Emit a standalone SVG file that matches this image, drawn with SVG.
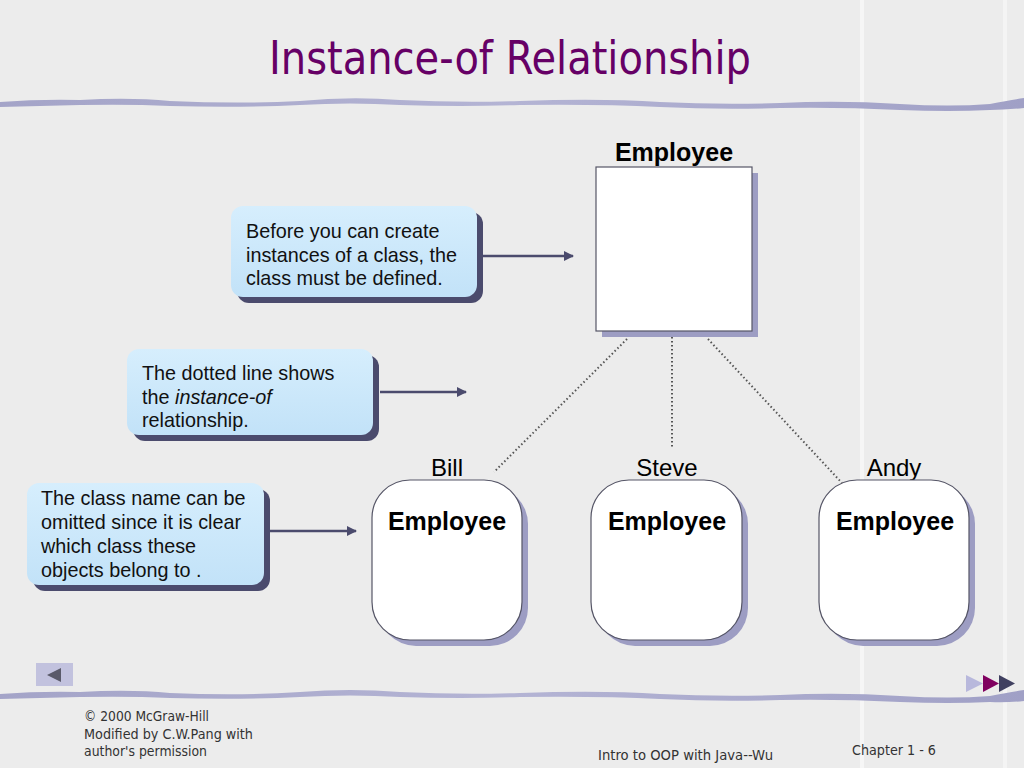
<svg xmlns="http://www.w3.org/2000/svg" width="1024" height="768" viewBox="0 0 1024 768">
<defs>
<linearGradient id="cg" x1="0" y1="0" x2="0" y2="1">
<stop offset="0" stop-color="#d6eefd"/>
<stop offset="1" stop-color="#c2e2f8"/>
</linearGradient>
<linearGradient id="wg" x1="0" y1="0" x2="1" y2="0">
<stop offset="0" stop-color="#a4a4c8"/>
<stop offset="0.5" stop-color="#b4b4d4"/>
<stop offset="1" stop-color="#a0a0c6"/>
</linearGradient>
<marker id="ah" viewBox="0 0 10 10" refX="9" refY="5" markerWidth="4" markerHeight="4" orient="auto">
<path d="M0,0 L10,5 L0,10 z" fill="#4b4b6d"/>
</marker>
</defs>
<style>
.callout{fill:url(#cg);}
.cshadow{fill:#4b4b6d;}
.nshadow{fill:#9d9dc3;}
.node{fill:#ffffff;stroke:#555566;stroke-width:1.2;}
.ctext{font-family:"Liberation Sans",Arial,sans-serif;font-size:19.8px;fill:#111;}
.bold{font-family:"Liberation Sans",Arial,sans-serif;font-size:25px;font-weight:bold;fill:#000;}
.name{font-family:"Liberation Sans",Arial,sans-serif;font-size:24px;fill:#000;}
.foot{font-family:"DejaVu Sans Condensed","DejaVu Sans",sans-serif;font-size:14px;fill:#333;}
.arrow{stroke:#4b4b6d;stroke-width:2.5;fill:none;marker-end:url(#ah);}
.dot{stroke:#555;stroke-width:2;stroke-dasharray:1.5,2.5;fill:none;}
.wave{fill:url(#wg);}
</style>
<rect x="0" y="0" width="1024" height="768" fill="#ececec"/>
<rect x="860" y="0" width="4" height="768" fill="#f6f6f6"/>
<rect x="1003" y="0" width="4" height="768" fill="#f4f4f4"/>

<text x="510" y="74" text-anchor="middle" font-family="'DejaVu Sans Condensed','DejaVu Sans',sans-serif" font-size="47" fill="#660066" textLength="482" lengthAdjust="spacingAndGlyphs">Instance-of Relationship</text>

<path class="wave" d="M0,102 Q40,99 80,100 Q130,97 170,101 Q240,104 300,101 Q350,96 400,100 Q460,103 520,101 Q600,98 660,102 Q720,105 780,103 Q840,100 900,104 Q950,107 990,104 Q1010,100 1024,98 L1024,108 Q1005,110 990,110 Q950,112 900,110 Q840,107 780,108 Q720,110 660,107 Q600,104 520,105 Q460,107 400,105 Q350,102 300,105 Q240,108 170,106 Q130,104 80,105 Q40,106 0,107 z"/>
<path class="wave" d="M0,694 Q40,691 80,692 Q130,689 170,693 Q240,696 300,692 Q350,688 400,692 Q460,695 520,693 Q600,690 660,694 Q720,697 780,695 Q840,692 900,696 Q950,699 990,696 Q1010,692 1024,690 L1024,701 Q1005,703 990,702 Q950,704 900,702 Q840,699 780,700 Q720,702 660,699 Q600,696 520,697 Q460,699 400,697 Q350,694 300,697 Q240,700 170,698 Q130,696 80,697 Q40,698 0,699 z"/>

<g id="class-employee">
<text class="bold" x="674" y="161" text-anchor="middle">Employee</text>
<rect class="nshadow" x="602" y="173" width="156" height="164"/>
<rect class="node" x="596" y="167" width="156" height="164"/>
</g>

<g id="callout-1">
<rect class="cshadow" x="237" y="212" width="246" height="91" rx="12"/>
<rect class="callout" x="231" y="206" width="246" height="91" rx="12"/>
<text class="ctext" x="246" y="238">Before you can create</text>
<text class="ctext" x="246" y="262">instances of a class, the</text>
<text class="ctext" x="246" y="285">class must be defined.</text>
</g>

<g id="callout-2">
<rect class="cshadow" x="133" y="355" width="246" height="86" rx="12"/>
<rect class="callout" x="127" y="349" width="246" height="86" rx="12"/>
<text class="ctext" x="142" y="380">The dotted line shows</text>
<text class="ctext" x="142" y="404">the <tspan font-style="italic">instance-of</tspan></text>
<text class="ctext" x="142" y="427">relationship.</text>
</g>

<g id="callout-3">
<rect class="cshadow" x="33" y="489" width="237" height="102" rx="12"/>
<rect class="callout" x="27" y="483" width="237" height="102" rx="12"/>
<text class="ctext" x="41" y="505">The class name can be</text>
<text class="ctext" x="41" y="529">omitted since it is clear</text>
<text class="ctext" x="41" y="553">which class these</text>
<text class="ctext" x="41" y="577">objects belong to .</text>
</g>

<g id="obj-bill">
<text class="name" x="447" y="476" text-anchor="middle">Bill</text>
<rect class="nshadow" x="378" y="486" width="150" height="160" rx="38"/>
<rect class="node" x="372" y="480" width="150" height="160" rx="38"/>
<text class="bold" x="447" y="530" text-anchor="middle">Employee</text>
</g>
<g id="obj-steve">
<text class="name" x="667" y="476" text-anchor="middle">Steve</text>
<rect class="nshadow" x="597" y="486" width="151" height="160" rx="38"/>
<rect class="node" x="591" y="480" width="151" height="160" rx="38"/>
<text class="bold" x="667" y="530" text-anchor="middle">Employee</text>
</g>
<g id="obj-andy">
<text class="name" x="894" y="476" text-anchor="middle">Andy</text>
<rect class="nshadow" x="825" y="486" width="150" height="160" rx="38"/>
<rect class="node" x="819" y="480" width="150" height="160" rx="38"/>
<text class="bold" x="895" y="530" text-anchor="middle">Employee</text>
</g>

<g id="connectors">
<line class="arrow" x1="483" y1="256" x2="573" y2="256"/>
<line class="arrow" x1="380" y1="392" x2="466" y2="392"/>
<line class="arrow" x1="270" y1="531" x2="356" y2="531"/>
<line class="dot" x1="627" y1="339" x2="494" y2="472"/>
<line class="dot" x1="672" y1="337" x2="672" y2="448"/>
<line class="dot" x1="708" y1="339" x2="842" y2="483"/>
</g>

<g id="nav">
<rect x="36" y="663" width="37" height="23" fill="#c2c2de"/>
<path d="M47,675 L61,668 L61,682 z" fill="#5a5a6a"/>
<path d="M966,675 L983,683.5 L966,692 z" fill="#b8b8dc"/>
<path d="M983,675 L999,683.5 L983,692 z" fill="#800060"/>
<path d="M999,675 L1015,683.5 L999,692 z" fill="#404060"/>
</g>

<text class="foot" x="84" y="721" textLength="125" lengthAdjust="spacingAndGlyphs">© 2000 McGraw-Hill</text>
<text class="foot" x="84" y="739" textLength="169" lengthAdjust="spacingAndGlyphs">Modified by C.W.Pang with</text>
<text class="foot" x="84" y="756" textLength="123" lengthAdjust="spacingAndGlyphs">author's permission</text>
<text class="foot" x="598" y="760" textLength="175" lengthAdjust="spacingAndGlyphs">Intro to OOP with Java--Wu</text>
<text class="foot" x="852" y="755" textLength="84" lengthAdjust="spacingAndGlyphs">Chapter 1 - 6</text>
</svg>
